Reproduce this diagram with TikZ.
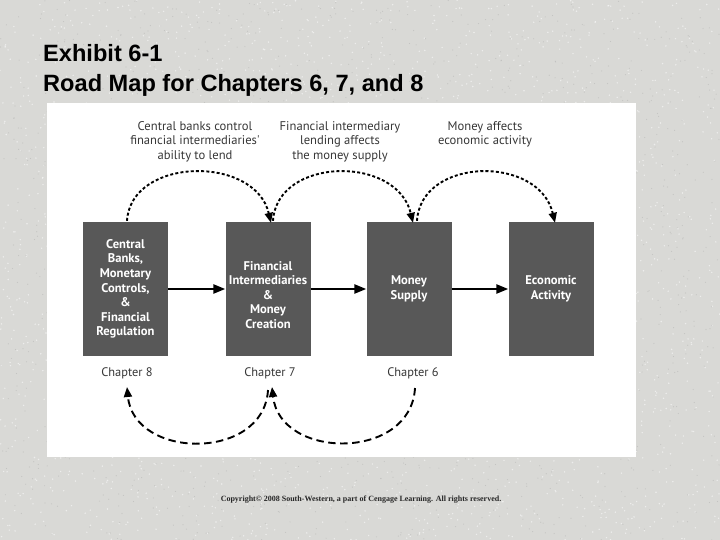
\documentclass[tikz,border=0pt]{standalone}
\usepackage{fontspec}
\setmainfont{Liberation Sans}
\newfontfamily\boxfont{PT Sans}
\newfontfamily\titlefont{Liberation Sans}
\newfontfamily\copyfont{Liberation Serif}
\usetikzlibrary{arrows.meta,calc}
\definecolor{bggray}{RGB}{217,217,214}
\definecolor{boxgray}{RGB}{88,88,88}
\definecolor{labgray}{RGB}{55,55,55}
\tikzset{
  boxnode/.style={draw=none,fill=boxgray,minimum width=85pt,minimum height=134pt,inner sep=0pt},
  boxtext/.style={text=white,font=\boxfont\bfseries\fontsize{12.6}{14.6}\selectfont,align=center,inner sep=0pt},
  toplabel/.style={text=labgray,font=\boxfont\fontsize{12.6}{14.5}\selectfont,align=center,inner sep=0pt,anchor=north},
  chaplabel/.style={text=labgray,font=\boxfont\fontsize{12.4}{14}\selectfont,inner sep=0pt},
  harrow/.style={line width=2.4pt,-{Triangle[length=12pt,width=9pt]}},
  dotarc/.style={line width=1.9pt,dash pattern=on 3pt off 2.2pt,-{Triangle[length=10pt,width=8pt]}},
  dasharc/.style={line width=1.9pt,dash pattern=on 7.5pt off 4.5pt,-{Triangle[length=10pt,width=8pt]}},
}
\begin{document}
\begin{tikzpicture}[x=1pt,y=-1pt]
\useasboundingbox (0,0) rectangle (720,540);
\fill[bggray] (0,0) rectangle (720,540);
\pgfmathsetseed{7}
\foreach \i in {1,...,2500}{
  \pgfmathsetmacro{\px}{rnd*720}
  \pgfmathsetmacro{\py}{rnd*540}
  \fill[white,opacity=0.55] (\px,\py) circle (0.8pt);
}
\foreach \i in {1,...,1500}{
  \pgfmathsetmacro{\px}{rnd*720}
  \pgfmathsetmacro{\py}{rnd*540}
  \fill[black!35,opacity=0.4] (\px,\py) circle (0.6pt);
}
\fill[white] (47,103) rectangle (636,457);

% title
\node[anchor=base west,inner sep=0pt,font=\titlefont\bfseries\fontsize{23.6}{28}\selectfont] (t1) at (43,62) {Exhibit 6-1};
\node[anchor=base west,inner sep=0pt,font=\titlefont\bfseries\fontsize{23.6}{28}\selectfont] (t2) at (43,92) {Road Map for Chapters 6, 7, and 8};

% boxes
\node[boxnode] (b1) at (125.5,289) {};
\node[boxnode] (b2) at (268,289) {};
\node[boxnode] (b3) at (409,289) {};
\node[boxnode] (b4) at (551,289) {};
\node[boxtext] (x1) at (b1.center) {Central\\Banks,\\Monetary\\Controls,\\\&\\Financial\\Regulation};
\node[boxtext] (x2) at ($(b2.center)+(0,6)$) {Financial\\Intermediaries\\\&\\Money\\Creation};
\node[boxtext] (x3) at (b3.center) {Money\\Supply};
\node[boxtext] (x4) at (b4.center) {Economic\\Activity};

\draw[harrow] (b1.east) -- (b2.west);
\draw[harrow] (b2.east) -- (b3.west);
\draw[harrow] (b3.east) -- (b4.west);

% top labels
\node[toplabel] (l1) at (195,121) {Central banks control\\financial intermediaries'\\ability to lend};
\node[toplabel] (l2) at (340,121) {Financial intermediary\\lending affects\\the money supply};
\node[toplabel] (l3) at (485,121) {Money affects\\economic activity};

% top dotted arcs
\coordinate (s1) at ($(b1.north)+(1.5,-1)$);
\coordinate (e1) at ($(b2.north)+(3,1)$);
\coordinate (s2) at ($(b2.north)+(5,-1)$);
\coordinate (e2) at ($(b3.north)+(4,1)$);
\coordinate (s3) at ($(b3.north)+(8,-1)$);
\coordinate (e3) at ($(b4.north)+(4,1)$);
\draw[dotarc] (s1) .. controls ($(s1)+(4,-64)$) and ($(e1)+(-16,-68)$) .. (e1);
\draw[dotarc] (s2) .. controls ($(s2)+(4,-64)$) and ($(e2)+(-16,-68)$) .. (e2);
\draw[dotarc] (s3) .. controls ($(s3)+(4,-64)$) and ($(e3)+(-16,-68)$) .. (e3);

% chapter labels
\node[chaplabel] (c8) at (127,373) {Chapter 8};
\node[chaplabel] (c7) at (270,373) {Chapter 7};
\node[chaplabel] (c6) at (413,373) {Chapter 6};

% bottom dashed arcs
\coordinate (d6) at (415,388);
\coordinate (d7a) at (272,387);
\coordinate (d7b) at (268,390);
\coordinate (d8) at (127,387);
\draw[dasharc] (d6) .. controls (411,461) and (280,460) .. (d7a);
\draw[dasharc] (d7b) .. controls (264,461) and (134,460) .. (d8);

% copyright
\node[anchor=base,inner sep=0pt,font=\copyfont\bfseries\fontsize{8}{9}\selectfont,text=black!85] (cp) at (361,501) {Copyright\textcopyright{} 2008 South-Western, a part of Cengage Learning. All rights reserved.};
\end{tikzpicture}
\end{document}
